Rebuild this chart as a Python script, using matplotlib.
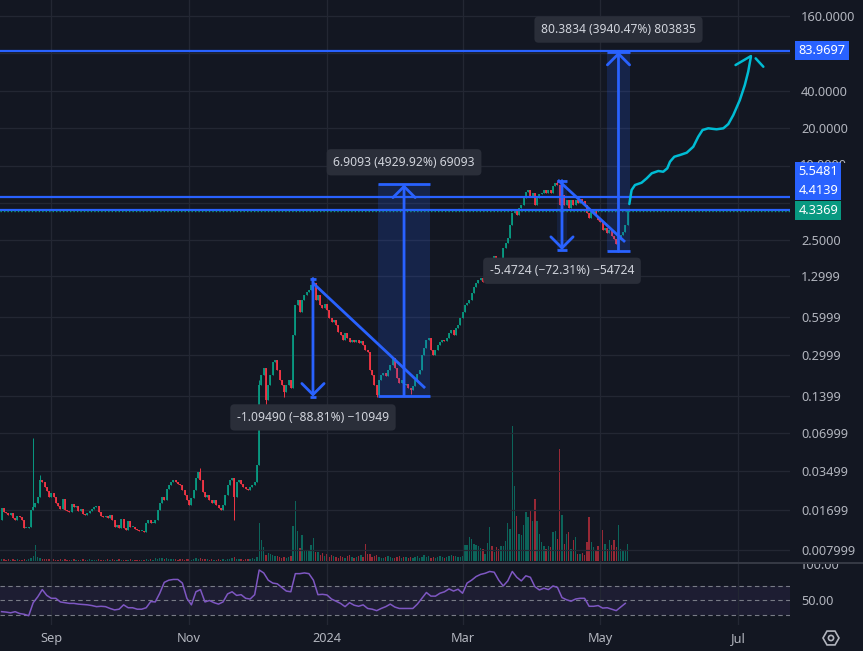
import numpy as np
import pandas as pd
import matplotlib
matplotlib.use("Agg")
import matplotlib.pyplot as plt
import matplotlib.dates as mdates
from matplotlib.lines import Line2D
from matplotlib.patches import RegularPolygon, Circle
from matplotlib.transforms import Bbox, TransformedBbox, IdentityTransform

plt.rcParams['font.family'] = ['Noto Sans', 'DejaVu Sans']

BG = "#131722"
GRID = "#232733"
TXT = "#b2b5be"
UP = "#089981"
DOWN = "#f23645"
BLUE = "#2962ff"
CYAN = "#00bcd4"
RSI_C = "#7e57c2"

# daily candles, first day 2023-08-10
first_open = 0.0140
closes = [
    0.0175, 0.0163, 0.0160, 0.0154, 0.0160, 0.0145, 0.0140, 0.0151, 0.0148, 0.0140,
    0.0121, 0.0121, 0.0123, 0.0169, 0.0178, 0.0192, 0.0215, 0.0295, 0.0284, 0.0258,
    0.0240, 0.0215, 0.0231, 0.0215, 0.0192, 0.0182, 0.0172, 0.0207, 0.0169, 0.0166,
    0.0163, 0.0189, 0.0178, 0.0182, 0.0166, 0.0172, 0.0157, 0.0154, 0.0160, 0.0166,
    0.0172, 0.0178, 0.0182, 0.0163, 0.0151, 0.0148, 0.0151, 0.0145, 0.0154, 0.0140,
    0.0123, 0.0128, 0.0121, 0.0143, 0.0121, 0.0116, 0.0137, 0.0123, 0.0123, 0.0119,
    0.0116, 0.0114, 0.0114, 0.0112, 0.0133, 0.0140, 0.0133, 0.0133, 0.0140, 0.0169,
    0.0192, 0.0215, 0.0203, 0.0249, 0.0268, 0.0284, 0.0295, 0.0284, 0.0274, 0.0268,
    0.0245, 0.0223, 0.0203, 0.0185, 0.0211, 0.0245, 0.0306, 0.0342, 0.0295, 0.0236,
    0.0215, 0.0223, 0.0203, 0.0192, 0.0203, 0.0185, 0.0175, 0.0169, 0.0185, 0.0223,
    0.0268, 0.0295, 0.0306, 0.0215, 0.0284, 0.0295, 0.0274, 0.0258, 0.0249, 0.0245,
    0.0258, 0.0268, 0.0284, 0.0389, 0.171, 0.206, 0.234, 0.130, 0.171, 0.206,
    0.262, 0.272, 0.226, 0.188, 0.171, 0.150, 0.171, 0.188, 0.162, 0.433,
    0.755, 0.829, 0.663, 0.829, 0.909, 0.961, 0.997, 1.094, 1.134, 0.829,
    0.909, 0.755, 0.714, 0.769, 0.688, 0.594, 0.551, 0.572, 0.521, 0.458,
    0.433, 0.395, 0.450, 0.410, 0.381, 0.395, 0.381, 0.395, 0.374, 0.388,
    0.360, 0.328, 0.316, 0.226, 0.206, 0.171, 0.1425, 0.188, 0.206, 0.213,
    0.202, 0.226, 0.248, 0.283, 0.234, 0.195, 0.177, 0.188, 0.171, 0.174,
    0.162, 0.156, 0.168, 0.188, 0.210, 0.226, 0.299, 0.340, 0.395, 0.410,
    0.328, 0.299, 0.328, 0.360, 0.381, 0.395, 0.388, 0.410, 0.450, 0.475,
    0.433, 0.492, 0.521, 0.594, 0.663, 0.755, 0.783, 0.829, 0.943, 1.054,
    1.134, 1.20, 1.245, 1.157, 1.32, 1.58, 1.81, 1.68, 1.87, 1.68,
    1.58, 1.81, 2.17, 2.39, 2.62, 3.33, 4.15, 4.39, 4.00, 4.55,
    4.82, 5.47, 6.12, 6.36, 5.70, 6.01, 4.82, 5.47, 5.91, 6.01,
    6.36, 6.01, 6.36, 6.01, 6.86, 7.24, 6.98, 4.82, 5.80, 4.82,
    5.28, 4.55, 5.28, 4.82, 5.28, 5.00, 5.38, 5.18, 4.82, 4.15,
    3.78, 4.23, 4.39, 3.93, 3.65, 3.52, 3.03, 3.15, 2.86, 3.03,
    2.71, 2.57, 2.34, 2.52, 2.76, 2.92, 3.33, 4.3369,
]
wick_high = {14: 0.0642, 17: 0.0323, 88: 0.0368, 114: 0.188, 138: 1.233, 246: 7.568}
wick_low = {103: 0.0140, 117: 0.108, 125: 0.137, 166: 0.1383, 181: 0.145, 273: 2.04}

volumes = [
    2, 2, 1, 2, 1, 2, 1, 2, 1, 1, 2, 1, 2,
    3, 5, 16, 4, 3, 2, 2, 2,
    2, 1, 2, 1, 1, 2, 1, 2, 1, 1,
    1, 2, 1, 1, 1, 2, 1, 1, 2, 1,
    1, 1, 2, 1, 1, 1, 2, 1, 2, 1,
    1, 2, 1, 1, 1, 1, 2, 1, 1, 1,
    1, 1, 1, 2, 1, 2, 1, 3, 2, 3,
    3, 2, 3, 2, 2, 2, 2, 1, 2, 2,
    1, 2, 2, 1, 2, 3, 2, 3, 2, 2,
    2, 1, 2, 1, 1, 2, 1, 2, 1, 2,
    2, 3, 4, 2, 2, 2, 1, 2, 2, 2,
    3, 2, 4,
    38, 21, 14, 6, 8, 7, 6, 5, 5,
    4, 3, 4, 3, 4, 5,
    35, 60, 30, 13, 26, 10, 11, 11, 16, 23, 9, 9,
    6, 8, 5, 7, 4, 6, 5, 4, 3, 5,
    4, 3, 5, 6, 4, 3, 4, 5, 6, 4,
    17, 7, 7, 4, 5, 6, 4, 3, 3, 4,
    5, 4, 3, 3, 4, 5, 3, 4, 4, 3,
    4, 3, 4, 5, 3, 4, 6, 4, 5, 3,
    4, 3, 4, 5, 4, 3, 4, 5, 6, 5,
    5, 4, 4, 5,
    16, 16, 24, 22, 17, 16, 15, 13, 12, 7,
    18, 34, 15, 9, 14, 12, 15, 15, 20, 38,
    32, 135, 75, 45, 27, 26, 36, 49, 44, 50,
    40, 62, 40, 27, 19, 15, 12, 15, 14, 29,
    30, 22, 112, 46, 17, 27, 29, 12, 21, 24,
    7, 7, 8, 6, 19, 44, 19, 14, 11, 15,
    32, 31, 17, 12, 21, 16, 21, 14, 36, 12,
    11, 10, 17,
]

# RSI read every second day
rsi_values = [
    34.6, 34, 33, 34.6, 32, 31, 29, 47, 55, 65,
    57, 53, 53, 48, 47, 46, 46, 45, 44.5, 44,
    43, 41.5, 42, 41.5, 39, 37, 38, 44, 40, 40,
    38, 38, 40, 48.5, 48, 60, 75, 78, 79, 79,
    74, 53, 44, 62, 65, 48, 50, 47, 45, 48,
    59, 62, 57, 58, 53, 52, 58, 92, 88, 78,
    74, 73, 68, 63, 62, 87, 87, 88, 87, 78,
    58, 58.5, 57.6, 52, 49, 46, 41.5, 47, 43.5, 42,
    44, 39, 38, 36, 39, 41.5, 45, 41, 39, 39,
    39, 39, 45, 53, 61, 56, 56, 60, 62, 66,
    63, 65.5, 60, 74, 78, 83, 86, 87.5, 90, 89,
    78, 70, 77, 90, 82, 77, 84, 82, 69, 64.5,
    67, 65, 70, 68, 54, 51, 49, 52, 53, 53,
    42, 42, 43, 39.5, 40, 38, 36, 41, 46,
]

price_ticks = [160, 80, 40, 20, 10, 5, 2.5, 1.2999, 0.5999, 0.2999, 0.1399,
               0.06999, 0.03499, 0.01699, 0.007999]
# 80 and 5 sit under the badges, 10 is only partly visible
price_labels = ["160.0000", "", "40.0000", "20.0000", "", "",
                "2.5000", "1.2999", "0.5999", "0.2999", "0.1399", "0.06999",
                "0.03499", "0.01699", "0.007999"]
month_ticks = ["2023-09-01", "2023-11-01", "2024-01-01", "2024-03-01", "2024-05-01", "2024-07-01"]
month_labels = ["Sep", "Nov", "2024", "Mar", "May", "Jul"]

level_prices = [83.9697, 5.5481, 4.4139]
last_price = 4.3369

# drawings, dates as days after 2024-01-01
measure_left = [-7.5, 22.6, 101.8, 123.9]
measure_right = [-4.9, 45.6, 106.2, 134.1]
measure_from = [1.233, 0.14015, 7.568, 2.04]
measure_to = [0.1383, 7.049, 2.0956, 82.42]
measure_text = ["-1.09490 (\u221288.81%) \u221210949",
                "6.9093 (4929.92%) 69093",
                "-5.4724 (\u221272.31%) \u221254724",
                "80.3834 (3940.47%) 803835"]
measure_fill = [0.0, 0.18, 0.12, 0.18]

trend_days = [(-6.2, 43.4), (102.2, 131.9)]
trend_prices = [(1.134, 0.162), (7.66, 2.43)]

proj_days = [133.8, 134.8, 136.3, 139.2, 141.5, 143.7, 146.6, 148.8, 150.6, 151.8,
             153.7, 156.2, 159.2, 162.1, 164.3, 166.2, 168.7, 172.4, 175.4, 177.6,
             179.8, 182.7, 184.9, 186.4, 187.6]
proj_prices = [4.91, 6.36, 6.98, 7.28, 7.90, 8.67, 9.05, 8.93, 9.51, 10.75,
               11.79, 12.17, 12.70, 14.19, 17.08, 19.35, 19.96, 19.60, 19.96, 21.6,
               25.5, 33.7, 44.5, 57.0, 75.3]
proj_head_days = [(180.8, 187.6), (189.7, 193.1)]
proj_head_prices = [(64.5, 76.2), (73.0, 62.5)]

# ---------------------------------------------------------------
dates = pd.date_range("2023-08-10", periods=len(closes), freq="D")
x = mdates.date2num(dates)
base = mdates.date2num(pd.Timestamp("2024-01-01"))

c = np.array(closes)
o = np.array([first_open] + closes[:-1])
up = c >= o
cols = np.where(up, UP, DOWN)
hi = np.maximum(o, c)
lo = np.minimum(o, c)
body_hi = np.where(hi / lo < 1.025, lo * 1.025, hi)
wh = hi.copy()
wl = lo.copy()
for k, v in wick_high.items():
    wh[k] = v
for k, v in wick_low.items():
    wl[k] = v

W, H = 863, 651
FS = 9.2
fig = plt.figure(figsize=(W / 100, H / 100), dpi=100, facecolor=BG)
main_rect = [0, (H - 562) / H, 790 / W, 562 / H]
ax = fig.add_axes(main_rect)
ax_vol = ax.twinx()
ax.set_zorder(ax_vol.get_zorder() + 1)
ax.patch.set_visible(False)
ax_vol.patch.set_visible(True)
ax_vol.set_facecolor(BG)

ax.set_yscale("log")
ax.set_ylim(0.006448, 215.3)
ax.set_xlim(base - 144.7, base + 204.9)

ax_vol.bar(x, volumes, width=0.6, color=[col + "99" for col in cols], linewidth=0)
ax_vol.set_ylim(-1, 561)
ax_vol.yaxis.set_visible(False)

ax.vlines(x, wl, wh, colors=cols, lw=0.7, zorder=3)
ax.vlines(x, lo, body_hi, colors=cols, lw=1.3, zorder=3)

month_x = [mdates.date2num(pd.Timestamp(m)) for m in month_ticks]
ax.set_xticks(month_x)
ax.tick_params(axis="x", length=0, labelbottom=False)
ax.yaxis.tick_right()
ax.set_yticks(price_ticks)
ax.set_yticklabels(price_labels)
ax.yaxis.set_minor_locator(matplotlib.ticker.NullLocator())
ax.tick_params(axis="y", length=0, pad=8, labelcolor=TXT, labelsize=FS)
ax.grid(True, color=GRID, lw=0.9)
ax.set_axisbelow(True)
for a in (ax, ax_vol):
    for s in a.spines.values():
        s.set_visible(False)

# horizontal levels
for p in level_prices:
    ax.axhline(p, color=BLUE, lw=1.6, zorder=4)
ax.axhline(last_price, color=UP, lw=1.0, ls=(0, (1, 1.5)), zorder=4)

# trend lines
for (d0, d1), (p0, p1) in zip(trend_days, trend_prices):
    ax.plot([base + d0, base + d1], [p0, p1], color=BLUE, lw=2, zorder=5,
            solid_capstyle="butt")

# price range measurements
for left, right, pf, pt, txt, fa in zip(measure_left, measure_right, measure_from,
                                         measure_to, measure_text, measure_fill):
    xl, xr = base + left, base + right
    xc = (xl + xr) / 2
    if fa > 0:
        ax.fill_between([xl, xr], pf, pt, color=BLUE, alpha=fa, lw=0, zorder=4)
    ax.hlines([pf, pt], xl, xr, color=BLUE, lw=2, zorder=5)
    ax.annotate("", xy=(xc, pt), xytext=(xc, pf),
                arrowprops=dict(arrowstyle="->,head_length=0.8,head_width=0.8",
                                color=BLUE, lw=2, shrinkA=0, shrinkB=0), zorder=5)
    dy = 16 if pt > pf else -15
    ax.annotate(txt, xy=(xc, pt), xytext=(0, dy), textcoords="offset points",
                ha="center", va="center", fontsize=8.7, color="#d1d4dc", zorder=8,
                bbox=dict(boxstyle="round,pad=0.55,rounding_size=0.35",
                          fc="#2a2e39", ec="none"))

# projected path
ax.plot(base + np.array(proj_days), proj_prices, color=CYAN, lw=1.8, zorder=6,
        solid_capstyle="round", solid_joinstyle="round")
for (d0, d1), (p0, p1) in zip(proj_head_days, proj_head_prices):
    ax.plot([base + d0, base + d1], [p0, p1], color=CYAN, lw=1.8, zorder=6,
            solid_capstyle="round")

# the 10.0000 label mostly hidden by the badges: keep only its top sliver
y10 = ax.transData.transform((base, 10))[1]
t10 = fig.text(800 / W, y10 / H, "10.0000", ha="left", va="center",
               color=TXT, fontsize=FS)
t10.set_clip_box(TransformedBbox(Bbox([[0.9, (y10 + 3) / H], [1, 1]]), fig.transFigure))
t10.set_clip_on(True)

# price badges on the scale
def badge(value, text, color, dy):
    ax.annotate(text, xy=(1, value), xycoords=("axes fraction", "data"),
                xytext=(6, dy), textcoords="offset points", ha="left", va="center",
                color="white", fontsize=FS, zorder=10, annotation_clip=False,
                bbox=dict(boxstyle="square,pad=0.25", fc=color, ec="none"))

badge(level_prices[0], "83.9697", BLUE, 0)
badge(level_prices[1], "5.5481", BLUE, 18.6)
badge(level_prices[2], "4.4139", BLUE, 14.0)
badge(last_price, "4.3369", UP, 0)

# RSI pane
ax_rsi = fig.add_axes([0, (H - 625) / H, 790 / W, 61 / H], facecolor=BG)
ax_rsi.set_xlim(ax.get_xlim())
ax_rsi.set_ylim(16.2, 100.3)
ax_rsi.axhspan(30, 70, color=RSI_C, alpha=0.1, lw=0)
for lvl in (70, 50, 30):
    ax_rsi.axhline(lvl, color="#787b86", lw=0.8, ls=(0, (4, 3)))
ax_rsi.plot(x[::2], rsi_values, color=RSI_C, lw=1.1)
ax_rsi.set_xticks(month_x)
ax_rsi.set_xticklabels(month_labels)
ax_rsi.yaxis.tick_right()
ax_rsi.set_yticks([50])
ax_rsi.set_yticklabels(["50.00"])
ax_rsi.tick_params(axis="both", length=0, labelcolor=TXT, labelsize=FS)
ax_rsi.tick_params(axis="y", pad=8)
ax_rsi.tick_params(axis="x", pad=5)
ax_rsi.grid(True, axis="x", color=GRID, lw=0.9)
for s in ax_rsi.spines.values():
    s.set_visible(False)
for lab in ax_rsi.get_xticklabels():
    if lab.get_text() == "2024":
        lab.set_fontweight("bold")

# 100.00 label cut by the pane separator
y100 = ax_rsi.transData.transform((base, 100))[1]
t100 = fig.text(800 / W, (y100 - 1) / H, "100.00", ha="left", va="center",
                color=TXT, fontsize=FS)
t100.set_clip_box(TransformedBbox(Bbox([[0.9, 0], [1, (H - 564) / H]]), fig.transFigure))
t100.set_clip_on(True)

fig.add_artist(Line2D([0, 1], [(H - 563) / H] * 2, transform=fig.transFigure,
                      color="#363a45", lw=1.4))

# settings icon at bottom right
fig.add_artist(RegularPolygon((831, H - 638), 6, radius=8, orientation=np.pi / 6,
                              transform=IdentityTransform(), fill=False,
                              ec=TXT, lw=1.2))
fig.add_artist(Circle((831, H - 638), 2.6, transform=IdentityTransform(),
                      fill=False, ec=TXT, lw=1.2))

fig.savefig("out.png", dpi=100, facecolor=BG)
